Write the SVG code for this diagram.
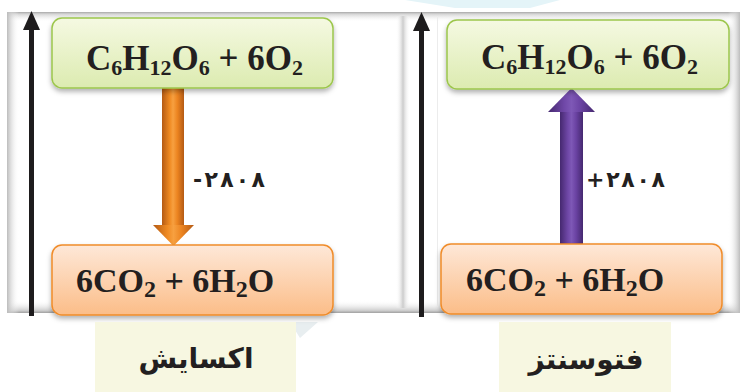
<svg xmlns="http://www.w3.org/2000/svg" width="745" height="392" viewBox="0 0 745 392">
<style>
.f1{font-family:"Liberation Serif","Times New Roman",serif;font-weight:bold;fill:#231f20}
.top{font-size:35px}
.bot{font-size:34px}
.fa{font-family:"DejaVu Sans","Noto Sans",sans-serif;font-weight:bold;fill:#231f20}
.gbox{fill:url(#gGreen);stroke:#9cc64c;stroke-width:1.5}
.obox{fill:url(#gOrange);stroke:#f08c2a;stroke-width:1.5}
.lbl{fill:#f7f7e1}
.axis{stroke:#1e1c1d;stroke-width:5;fill:none}
</style>
<defs>
<linearGradient id="gGreen" x1="0" y1="0" x2="0" y2="1"><stop offset="0" stop-color="#f5f9e2"/><stop offset="1" stop-color="#dcebb0"/></linearGradient>
<linearGradient id="gOrange" x1="0" y1="0" x2="0" y2="1"><stop offset="0" stop-color="#fee8d8"/><stop offset="1" stop-color="#fbbd88"/></linearGradient>
<linearGradient id="gOA" x1="0" y1="0" x2="1" y2="0"><stop offset="0" stop-color="#b45a14"/><stop offset="0.35" stop-color="#ef8a22"/><stop offset="0.5" stop-color="#f7a040"/><stop offset="0.7" stop-color="#ec8420"/><stop offset="1" stop-color="#b45a14"/></linearGradient>
<linearGradient id="gPA" x1="0" y1="0" x2="1" y2="0"><stop offset="0" stop-color="#45286f"/><stop offset="0.35" stop-color="#7048a8"/><stop offset="0.5" stop-color="#7e58b6"/><stop offset="0.7" stop-color="#6a42a2"/><stop offset="1" stop-color="#45286f"/></linearGradient>
<linearGradient id="shTop" x1="0" y1="0" x2="0" y2="1"><stop offset="0" stop-color="#a8a8a8"/><stop offset="0.2" stop-color="#d4d4d4"/><stop offset="1" stop-color="#ffffff" stop-opacity="0"/></linearGradient>
<linearGradient id="shBot" x1="0" y1="0" x2="0" y2="1"><stop offset="0" stop-color="#ffffff" stop-opacity="0"/><stop offset="0.8" stop-color="#cfcfcf"/><stop offset="1" stop-color="#a0a0a0"/></linearGradient>
<linearGradient id="shL" x1="0" y1="0" x2="1" y2="0"><stop offset="0" stop-color="#bcbcbc"/><stop offset="1" stop-color="#ffffff" stop-opacity="0"/></linearGradient>
<linearGradient id="shR" x1="0" y1="0" x2="1" y2="0"><stop offset="0" stop-color="#ffffff" stop-opacity="0"/><stop offset="1" stop-color="#bcbcbc"/></linearGradient>
<linearGradient id="shMid" x1="0" y1="0" x2="1" y2="0"><stop offset="0" stop-color="#ffffff" stop-opacity="0"/><stop offset="0.5" stop-color="#cccccc"/><stop offset="1" stop-color="#ffffff" stop-opacity="0"/></linearGradient>
<filter id="sh" x="-10%" y="-20%" width="120%" height="150%"><feDropShadow dx="0" dy="3" stdDeviation="2.5" flood-color="#000" flood-opacity="0.3"/></filter>
<marker id="blk" markerUnits="userSpaceOnUse" markerWidth="19" markerHeight="17" viewBox="0 0 19 17" refX="1" refY="8.5" orient="auto"><path d="M0,0 L19,8.5 L0,17 z" fill="#1e1c1d"/></marker>
</defs>

<g id="background">
<rect x="0" y="0" width="745" height="392" fill="#ffffff"/>
<polygon points="405,0 560,0 530,8 455,8" fill="#e4f4f8"/>
<polygon points="290,322 318,322 300,338" fill="#e8eef0"/>
<rect x="7" y="12" width="733" height="10" fill="url(#shTop)"/>
<rect x="7" y="300" width="733" height="13" fill="url(#shBot)"/>
<rect x="7" y="12" width="12" height="301" fill="url(#shL)"/>
<rect x="728" y="12" width="12" height="301" fill="url(#shR)"/>
<rect x="396" y="16" width="14" height="292" fill="url(#shMid)"/>
<rect x="437" y="16" width="1" height="290" fill="#ececec"/>
</g>

<g id="connectors">
<line class="axis" x1="31.5" y1="316" x2="31.5" y2="29" marker-end="url(#blk)"/>
<line class="axis" x1="421.5" y1="317" x2="421.5" y2="30" marker-end="url(#blk)"/>
<g id="arrow-oxidation">
<rect x="162" y="88" width="22" height="140" fill="url(#gOA)"/>
<polygon points="153,225 194,225 173.5,246" fill="url(#gOA)"/>
</g>
<g id="arrow-photosynthesis">
<rect x="560" y="110" width="23" height="136" fill="url(#gPA)"/>
<polygon points="548,112 595,112 571.5,88" fill="url(#gPA)"/>
</g>
<text class="fa" x="193" y="187" font-size="22" textLength="72" lengthAdjust="spacing">-۲۸۰۸</text>
<text class="fa" x="586" y="187" font-size="22" textLength="79" lengthAdjust="spacing">+۲۸۰۸</text>
</g>

<g id="left-top">
<rect class="gbox" x="52" y="18" width="281" height="70" rx="10" filter="url(#sh)"/>
<text class="f1 top" x="86" y="70">C<tspan font-size="22" dy="5">6</tspan><tspan dy="-5">H</tspan><tspan font-size="22" dy="5">12</tspan><tspan dy="-5">O</tspan><tspan font-size="22" dy="5">6</tspan><tspan dy="-5"> + 6O</tspan><tspan font-size="22" dy="5">2</tspan></text>
</g>

<g id="right-top">
<rect class="gbox" x="447" y="20" width="282" height="69" rx="10" filter="url(#sh)"/>
<text class="f1 top" x="481" y="69">C<tspan font-size="22" dy="5">6</tspan><tspan dy="-5">H</tspan><tspan font-size="22" dy="5">12</tspan><tspan dy="-5">O</tspan><tspan font-size="22" dy="5">6</tspan><tspan dy="-5"> + 6O</tspan><tspan font-size="22" dy="5">2</tspan></text>
</g>

<g id="left-bottom">
<rect class="obox" x="52" y="245" width="281" height="70" rx="10" filter="url(#sh)"/>
<text class="f1 bot" x="76" y="292">6CO<tspan font-size="24" dy="5">2</tspan><tspan dy="-5"> + 6H</tspan><tspan font-size="24" dy="5">2</tspan><tspan dy="-5">O</tspan></text>
</g>

<g id="right-bottom">
<rect class="obox" x="441" y="244" width="281" height="70" rx="10" filter="url(#sh)"/>
<text class="f1 bot" x="466" y="291">6CO<tspan font-size="24" dy="5">2</tspan><tspan dy="-5"> + 6H</tspan><tspan font-size="24" dy="5">2</tspan><tspan dy="-5">O</tspan></text>
</g>

<g id="label-oxidation">
<rect class="lbl" x="95" y="322" width="201" height="70"/>
<text class="fa" x="196" y="368" font-size="28" text-anchor="middle">اکسایش</text>
</g>

<g id="label-photosynthesis">
<rect class="lbl" x="499" y="322" width="172" height="70"/>
<text class="fa" x="586" y="369" font-size="28" text-anchor="middle">فتوسنتز</text>
</g>
</svg>
